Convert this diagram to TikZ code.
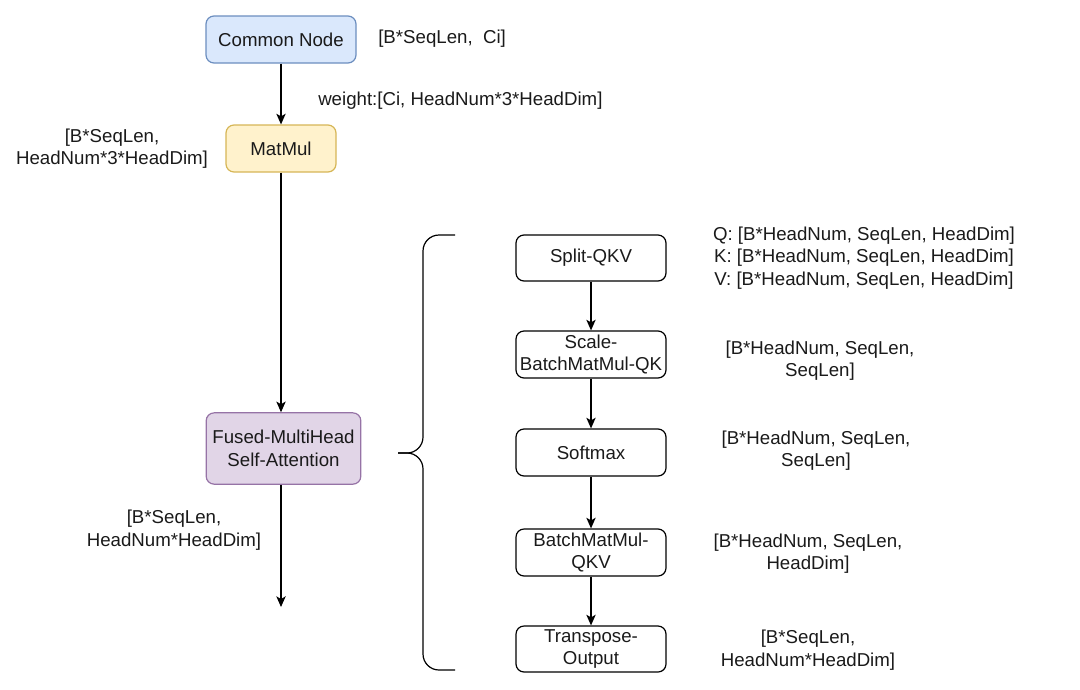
\documentclass[tikz,border=0pt]{standalone}
\usepackage{fontspec}
\setmainfont{Liberation Sans}
\usetikzlibrary{arrows.meta}
\definecolor{txt}{HTML}{1A1A1A}
\definecolor{bluefill}{HTML}{DAE8FC}
\definecolor{bluedraw}{HTML}{6C8EBF}
\definecolor{yelfill}{HTML}{FFF2CC}
\definecolor{yeldraw}{HTML}{D6B656}
\definecolor{purfill}{HTML}{E1D5E7}
\definecolor{purdraw}{HTML}{9673A6}
\tikzset{
  box/.style={draw=black, rounded corners=6pt, line width=0.9pt, align=center,
    inner sep=0pt, text=txt, font=\fontsize{14}{16.9}\selectfont},
  lbl/.style={align=center, inner sep=0pt, text=txt, font=\fontsize{14}{16.9}\selectfont},
  arr/.style={draw=black, line width=0.9pt, -{Stealth[length=8pt,width=7pt,inset=2pt]}},
}
\begin{document}
\begin{tikzpicture}[x=0.75pt,y=-0.75pt]
\useasboundingbox (0,0) rectangle (1080,689);
% left chain
\node[box, fill=bluefill, draw=bluedraw, minimum width=112.5pt, minimum height=35.25pt] (common) at (281,39.5) {Common Node};
\node[box, fill=yelfill, draw=yeldraw, minimum width=82.5pt, minimum height=35.25pt] (matmul) at (281,148.5) {MatMul};
\node[box, fill=purfill, draw=purdraw, minimum width=116pt, minimum height=53.5pt] (fused) at (283.5,448.5) {Fused-MultiHead\\Self-Attention};
\coordinate (fout) at (281,607);
\draw[arr] (common.south) -- (matmul.north);
\draw[arr] (matmul.south) -- (matmul.south |- fused.north);
\draw[arr] (fused.south -| fout) -- (fout);
% left labels
\node[lbl, anchor=west] (l1) at (378,39) {[B*SeqLen,\ \ Ci]};
\node[lbl, anchor=west] (l2) at (318,101) {weight:[Ci, HeadNum*3*HeadDim]};
\node[lbl] (l3) at (112,148.5) {[B*SeqLen,\\HeadNum*3*HeadDim]};
\node[lbl] (l4) at (174,530) {[B*SeqLen,\\HeadNum*HeadDim]};
% brace
\draw[line width=0.9pt, rounded corners=12pt] (455,235) -- (423,235) -- (423,453) -- (398,453);
\draw[line width=0.9pt, rounded corners=12pt] (455,670) -- (423,670) -- (423,453) -- (398,453);
% right chain
\node[box, minimum width=112.5pt, minimum height=34.5pt] (split) at (591,258) {Split-QKV};
\node[box, minimum width=112.5pt, minimum height=35.25pt] (scale) at (591,354.5) {Scale-\\BatchMatMul-QK};
\node[box, minimum width=112.5pt, minimum height=35.25pt] (soft) at (591,452.5) {Softmax};
\node[box, minimum width=112.5pt, minimum height=35.25pt] (bmm) at (591,552.5) {BatchMatMul-\\QKV};
\node[box, minimum width=112.5pt, minimum height=34.5pt] (trans) at (591,649) {Transpose-\\Output};
\draw[arr] (split.south) -- (scale.north);
\draw[arr] (scale.south) -- (soft.north);
\draw[arr] (soft.south) -- (bmm.north);
\draw[arr] (bmm.south) -- (trans.north);
% right labels
\node[lbl] (r1) at (864,258) {Q: [B*HeadNum, SeqLen, HeadDim]\\K: [B*HeadNum, SeqLen, HeadDim]\\V: [B*HeadNum, SeqLen, HeadDim]};
\node[lbl] (r2) at (820,360.5) {[B*HeadNum, SeqLen,\\SeqLen]};
\node[lbl] (r3) at (816,450.5) {[B*HeadNum, SeqLen,\\SeqLen]};
\node[lbl] (r4) at (808,553.5) {[B*HeadNum, SeqLen,\\HeadDim]};
\node[lbl] (r5) at (808,650) {[B*SeqLen,\\HeadNum*HeadDim]};
\end{tikzpicture}
\end{document}
